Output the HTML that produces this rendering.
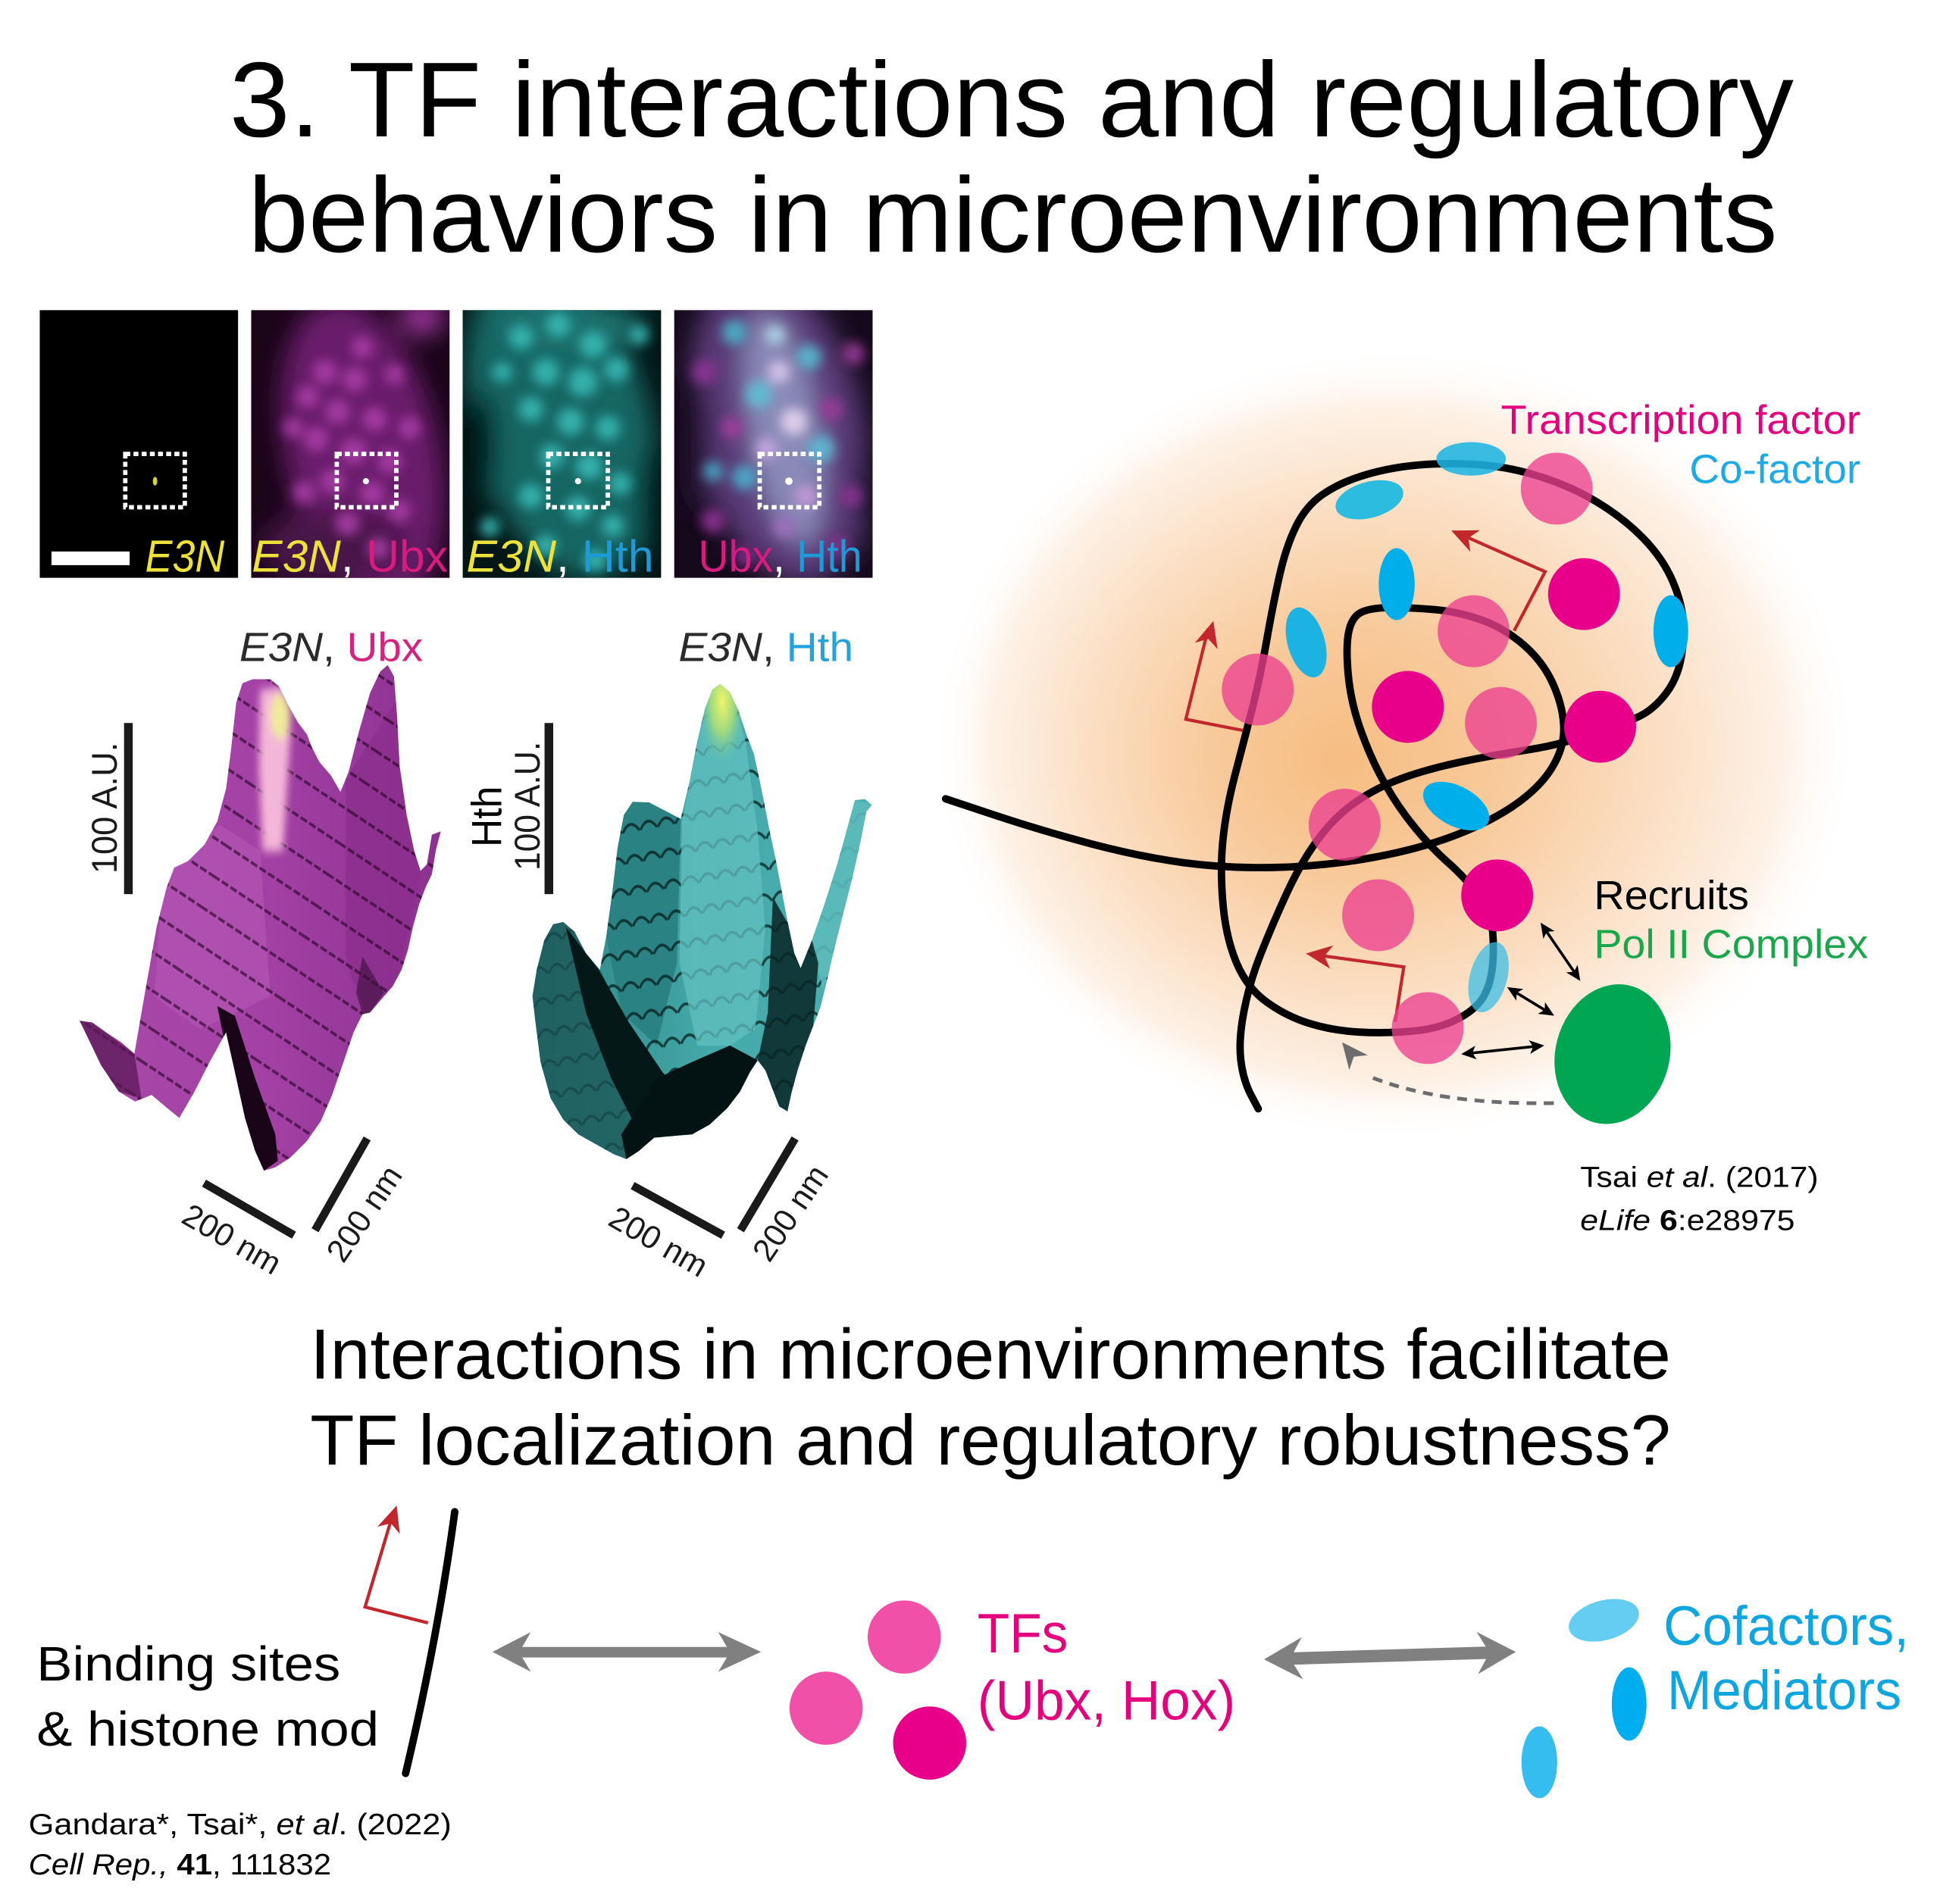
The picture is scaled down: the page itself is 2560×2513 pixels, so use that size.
<!DOCTYPE html>
<html><head><meta charset="utf-8"><style>html,body{margin:0;padding:0;background:#fff}svg{display:block}svg text{font-family:"Liberation Sans",Arial,sans-serif}</style></head>
<body>
<svg xmlns="http://www.w3.org/2000/svg" width="2560" height="2513" viewBox="0 0 1564 1535.28" preserveAspectRatio="none" font-family="Liberation Sans, Arial, sans-serif">
<defs>
  <filter id="bl" x="-30%" y="-30%" width="160%" height="160%"><feGaussianBlur stdDeviation="4.5"/></filter>
  <filter id="blB" x="-30%" y="-30%" width="160%" height="160%"><feGaussianBlur stdDeviation="10"/></filter>
  <filter id="blS" x="-30%" y="-30%" width="160%" height="160%"><feGaussianBlur stdDeviation="14"/></filter>
  <radialGradient id="glow" cx="0.5" cy="0.5" r="0.5" fx="0.44" fy="0.52">
    <stop offset="0" stop-color="#f6bd83"/>
    <stop offset="0.3" stop-color="#f8c999"/>
    <stop offset="0.62" stop-color="#fbdfc4"/>
    <stop offset="0.85" stop-color="#fdf1e6"/>
    <stop offset="1" stop-color="#ffffff" stop-opacity="0"/>
  </radialGradient>
  <linearGradient id="gM" x1="0" y1="0" x2="1" y2="0">
    <stop offset="0" stop-color="#a849a8"/>
    <stop offset="0.5" stop-color="#a441a6"/>
    <stop offset="1" stop-color="#8c3090"/>
  </linearGradient>
  <linearGradient id="gT" x1="0" y1="0" x2="1" y2="0">
    <stop offset="0" stop-color="#2a7c7c"/>
    <stop offset="0.5" stop-color="#44a8a8"/>
    <stop offset="1" stop-color="#4fb2b2"/>
  </linearGradient>
  <radialGradient id="peakT" cx="0.5" cy="0.3" r="0.6">
    <stop offset="0" stop-color="#eef56a"/>
    <stop offset="0.5" stop-color="#9ed880"/>
    <stop offset="1" stop-color="#5abfae" stop-opacity="0"/>
  </radialGradient>
  <pattern id="stM" width="400" height="105" patternUnits="userSpaceOnUse" patternTransform="rotate(27)">
    <line x1="0" y1="95" x2="400" y2="95" stroke="#2a0528" stroke-width="9" stroke-dasharray="28 10" opacity=".65"/>
  </pattern>
  <pattern id="stT" width="70" height="95" patternUnits="userSpaceOnUse" patternTransform="rotate(-8)">
    <path d="M2,85 Q35,40 68,85" fill="none" stroke="#031616" stroke-width="9" opacity=".7"/>
  </pattern>
  <clipPath id="cp1"><rect x="32" y="250" width="160" height="216"/></clipPath>
  <clipPath id="cp2"><rect x="202.5" y="250" width="160" height="216"/></clipPath>
  <clipPath id="cp3"><rect x="373" y="250" width="160" height="216"/></clipPath>
  <clipPath id="cp4"><rect x="543.5" y="250" width="160" height="216"/></clipPath>
  <clipPath id="clipM"><path d="M690,50 L730,38 L800,38 L835,60 L870,115 L910,170 L945,205 L965,245 L995,290 L1040,330 L1078,380 L1110,320 L1150,200 L1195,80 L1235,15 L1265,-5 L1290,30 L1302,150 L1312,300 L1340,450 L1370,560 L1395,620 L1420,600 L1440,510 L1475,500 L1455,560 L1440,630 L1415,670 L1390,720 L1365,790 L1345,860 L1320,920 L1285,970 L1240,1010 L1195,1050 L1165,1055 L1130,1110 L1090,1200 L1045,1300 L1000,1380 L945,1440 L880,1490 L820,1520 L775,1530 L740,1470 L700,1370 L660,1230 L625,1110 L560,1200 L500,1290 L440,1370 L400,1345 L330,1300 L265,1320 L200,1290 L130,1210 L80,1130 L45,1075 L95,1080 L150,1110 L210,1140 L262,1175 L290,1050 L320,920 L350,790 L390,670 L420,610 L475,590 L540,540 L590,470 L625,370 L645,250 L665,110 Z"/></clipPath>
  <clipPath id="clipT"><path d="M780,70 L812,52 L850,78 L885,135 L915,205 L945,265 L965,335 L985,410 L1005,490 L1030,580 L1055,680 L1080,780 L1105,870 L1130,915 L1175,830 L1225,720 L1275,600 L1315,490 L1345,405 L1385,402 L1412,420 L1390,440 L1370,520 L1335,640 L1295,760 L1262,860 L1235,950 L1210,1030 L1180,1090 L1150,1150 L1120,1220 L1095,1290 L1078,1350 L1045,1335 L1015,1275 L990,1225 L960,1195 L930,1230 L890,1290 L840,1340 L770,1390 L700,1420 L620,1425 L550,1430 L490,1470 L440,1495 L390,1480 L320,1450 L250,1420 L190,1375 L140,1310 L100,1200 L80,1080 L68,1000 L85,920 L115,830 L150,782 L190,775 L235,805 L280,870 L335,920 L360,820 L385,680 L405,550 L430,450 L465,410 L530,412 L600,440 L655,462 L690,350 L720,230 L750,130 Z"/></clipPath>
</defs>

<rect x="0" y="0" width="1564" height="1535.28" fill="#fff"/>

<!-- Title -->
<text x="185" y="110" font-size="86" textLength="1261" lengthAdjust="spacingAndGlyphs" fill="#000">3. TF interactions and regulatory</text>
<text x="200" y="203" font-size="86" textLength="1233" lengthAdjust="spacingAndGlyphs" fill="#000">behaviors in microenvironments</text>

<!-- Micrograph panel 1 -->
<g clip-path="url(#cp1)">
  <rect x="32" y="250" width="160" height="216" fill="#000"/>
  <ellipse cx="125" cy="388" rx="1.8" ry="3.5" fill="#d8d040"/>
  <rect x="101" y="366" width="48" height="43" fill="none" stroke="#fff" stroke-width="3.5" stroke-dasharray="4 2.6"/>
  <rect x="41.5" y="444.7" width="63" height="11" fill="#fff"/>
  <text x="117" y="461" font-size="36" font-style="italic" fill="#ece23a" textLength="64" lengthAdjust="spacingAndGlyphs">E3N</text>
</g>

<!-- Panel 2 -->
<g clip-path="url(#cp2)">
  <rect x="202.5" y="250" width="160" height="216" fill="#1a0519"/>
  <g filter="url(#blB)">
    <ellipse cx="292" cy="365" rx="62" ry="125" transform="rotate(-12 292 365)" fill="#6a1f6c"/>
    <ellipse cx="270" cy="440" rx="60" ry="30" fill="#4a1648"/>
    <ellipse cx="340" cy="256" rx="18" ry="14" fill="#a338a3"/>
  </g>
  <g filter="url(#bl)" fill="#a83ea6" opacity=".9">
    <circle cx="262" cy="300" r="10"/><circle cx="286" cy="306" r="10"/><circle cx="248" cy="320" r="9"/>
    <circle cx="272" cy="332" r="10"/><circle cx="302" cy="338" r="10"/><circle cx="255" cy="354" r="10"/>
    <circle cx="285" cy="364" r="11"/><circle cx="314" cy="372" r="10"/><circle cx="268" cy="388" r="10"/>
    <circle cx="300" cy="398" r="10"/><circle cx="322" cy="412" r="9"/><circle cx="280" cy="422" r="10"/>
    <circle cx="245" cy="397" r="9"/><circle cx="330" cy="345" r="9"/><circle cx="292" cy="280" r="9"/>
    <circle cx="318" cy="302" r="8"/><circle cx="236" cy="345" r="8"/><circle cx="305" cy="442" r="9"/>
  </g>
  <circle cx="295" cy="388" r="2.5" fill="#fff"/>
  <rect x="271.5" y="366" width="48" height="43" fill="none" stroke="#fff" stroke-width="3.5" stroke-dasharray="4 2.6"/>
  <text x="203" y="461" font-size="36" textLength="158" lengthAdjust="spacingAndGlyphs"><tspan fill="#ece23a" font-style="italic">E3N</tspan><tspan fill="#fff">, </tspan><tspan fill="#d81b7f">Ubx</tspan></text>
</g>

<!-- Panel 3 -->
<g clip-path="url(#cp3)">
  <rect x="373" y="250" width="160" height="216" fill="#031515"/>
  <g filter="url(#blB)">
    <ellipse cx="452" cy="340" rx="72" ry="130" transform="rotate(-15 452 340)" fill="#166664"/>
    <ellipse cx="460" cy="262" rx="60" ry="20" fill="#1a7270"/>
    <ellipse cx="388" cy="360" rx="12" ry="45" fill="#031515"/>
    <ellipse cx="526" cy="410" rx="10" ry="50" fill="#031515"/>
  </g>
  <g filter="url(#bl)" fill="#38b8b4" opacity=".9">
    <circle cx="420" cy="272" r="10"/><circle cx="450" cy="262" r="10"/><circle cx="478" cy="278" r="11"/>
    <circle cx="440" cy="300" r="11"/><circle cx="470" cy="308" r="12"/><circle cx="497" cy="298" r="10"/>
    <circle cx="428" cy="330" r="10"/><circle cx="460" cy="340" r="11"/><circle cx="490" cy="345" r="10"/>
    <circle cx="445" cy="368" r="10"/><circle cx="475" cy="376" r="11"/><circle cx="500" cy="390" r="9"/>
    <circle cx="428" cy="400" r="10"/><circle cx="466" cy="410" r="10"/><circle cx="494" cy="424" r="9"/>
    <circle cx="440" cy="440" r="9"/><circle cx="480" cy="452" r="9"/><circle cx="405" cy="300" r="8"/>
    <circle cx="395" cy="425" r="8"/><circle cx="515" cy="270" r="8"/>
  </g>
  <circle cx="466" cy="388" r="2.5" fill="#fff"/>
  <rect x="442" y="366" width="48" height="43" fill="none" stroke="#fff" stroke-width="3.5" stroke-dasharray="4 2.6"/>
  <text x="376" y="461" font-size="36" textLength="151" lengthAdjust="spacingAndGlyphs"><tspan fill="#ece23a" font-style="italic">E3N</tspan><tspan fill="#fff">, </tspan><tspan fill="#1e9ad8">Hth</tspan></text>
</g>

<!-- Panel 4 -->
<g clip-path="url(#cp4)">
  <rect x="543.5" y="250" width="160" height="216" fill="#150a1c"/>
  <g filter="url(#blB)">
    <ellipse cx="628" cy="345" rx="68" ry="128" transform="rotate(-12 628 345)" fill="#5a3a78"/>
    <ellipse cx="632" cy="345" rx="28" ry="95" transform="rotate(-10 632 345)" fill="#8a8ab8"/>
    <ellipse cx="560" cy="360" rx="12" ry="60" fill="#1e0c26"/>
    <ellipse cx="700" cy="400" rx="10" ry="50" fill="#160a1c"/>
  </g>
  <g filter="url(#bl)" opacity=".9">
    <circle cx="568" cy="300" r="10" fill="#8e3494"/><circle cx="575" cy="420" r="10" fill="#8a3090"/>
    <circle cx="688" cy="285" r="9" fill="#9a3a98"/><circle cx="686" cy="400" r="9" fill="#8a3290"/>
    <circle cx="600" cy="448" r="9" fill="#7a2c84"/><circle cx="675" cy="440" r="9" fill="#80308a"/>
    <circle cx="590" cy="345" r="9" fill="#a03c9c"/><circle cx="670" cy="330" r="9" fill="#9e3a9a"/>
    <circle cx="592" cy="268" r="10" fill="#4ab2c8"/><circle cx="612" cy="318" r="11" fill="#5ec0d6"/>
    <circle cx="652" cy="288" r="10" fill="#54bcd2"/><circle cx="600" cy="385" r="10" fill="#4aaecc"/>
    <circle cx="662" cy="362" r="11" fill="#5cbad4"/><circle cx="575" cy="380" r="8" fill="#48a8c4"/>
    <circle cx="628" cy="300" r="9" fill="#d8c8ec"/><circle cx="640" cy="340" r="11" fill="#e4d4f0"/>
    <circle cx="618" cy="362" r="9" fill="#c8a8e0"/><circle cx="650" cy="400" r="9" fill="#c89ad8"/>
    <circle cx="632" cy="425" r="9" fill="#a070c0"/><circle cx="625" cy="270" r="8" fill="#b0d8e8"/>
  </g>
  <circle cx="636" cy="388" r="3" fill="#fff"/>
  <rect x="612.5" y="366" width="48" height="43" fill="none" stroke="#fff" stroke-width="3.5" stroke-dasharray="4 2.6"/>
  <text x="563" y="461" font-size="36" textLength="132" lengthAdjust="spacingAndGlyphs"><tspan fill="#d81b7f">Ubx</tspan><tspan fill="#fff">, </tspan><tspan fill="#1e9ad8">Hth</tspan></text>
</g>

<!-- Surface labels -->
<text x="193" y="533" font-size="33" textLength="148" lengthAdjust="spacingAndGlyphs"><tspan fill="#2b2b2b" font-style="italic">E3N</tspan><tspan fill="#2b2b2b">, </tspan><tspan fill="#d6237f">Ubx</tspan></text>
<text x="547" y="533" font-size="33" textLength="141" lengthAdjust="spacingAndGlyphs"><tspan fill="#2b2b2b" font-style="italic">E3N</tspan><tspan fill="#2b2b2b">, </tspan><tspan fill="#22a3dc">Hth</tspan></text>

<!-- vertical scale bars -->
<line x1="103.5" y1="583" x2="103.5" y2="721" stroke="#1a1a1a" stroke-width="7"/>
<line x1="442.5" y1="583" x2="442.5" y2="721" stroke="#1a1a1a" stroke-width="7"/>
<text transform="translate(94,651.5) rotate(-90)" font-size="29" text-anchor="middle" fill="#1a1a1a" textLength="106" lengthAdjust="spacingAndGlyphs">100 A.U.</text>
<text transform="translate(435,650) rotate(-90)" font-size="29" text-anchor="middle" fill="#1a1a1a" textLength="104" lengthAdjust="spacingAndGlyphs">100 A.U.</text>
<text transform="translate(404,658.5) rotate(-90)" font-size="34" text-anchor="middle" fill="#000" textLength="49" lengthAdjust="spacingAndGlyphs">Hth</text>

<!-- Magenta surface -->
<g transform="translate(55,537.6) scale(0.2036,0.2656)">
  <g clip-path="url(#clipM)">
    <rect x="0" y="-20" width="1500" height="1600" fill="url(#gM)"/>
    <polygon points="380,600 600,480 760,560 800,1000 640,1060 520,1100 340,1000" fill="#b658b6" opacity=".6"/>
    <polygon points="1100,340 1300,100 1400,620 1300,960 1180,1050 1100,900" fill="#8a2e8c" opacity=".7"/>
    <rect x="0" y="-20" width="1500" height="1600" fill="url(#stM)"/>
    <g filter="url(#blS)">
      <polygon points="760,70 850,60 880,200 850,560 770,560 755,300" fill="#f4b6d8"/>
      <ellipse cx="840" cy="150" rx="40" ry="70" fill="#f0ea9a"/>
    </g>
    <polygon points="45,1075 95,1080 262,1175 290,1310 200,1290 130,1210 80,1130" fill="#5a1a55" opacity=".75"/>
    <polygon points="590,1030 660,1060 740,1250 820,1420 830,1500 775,1530 730,1460 680,1330 630,1180" fill="#1a0418"/>
    <polygon points="1165,880 1250,990 1195,1050 1165,1055 1140,990" fill="#3a0f3a" opacity=".6"/>
  </g>
</g>

<!-- Teal surface -->
<g transform="translate(415.4,537.6) scale(0.2036,0.2656)">
  <g clip-path="url(#clipT)">
    <rect x="0" y="0" width="1500" height="1600" fill="url(#gT)"/>
    <polygon points="360,820 385,680 405,550 430,450 465,410 530,412 600,440 655,462 640,900 560,1150 420,1050" fill="#2a8282"/>
    <rect x="0" y="0" width="1500" height="1600" fill="url(#stT)"/>
    <polygon points="660,470 760,90 850,78 910,220 960,500 990,800 950,1100 850,1150 720,1150 650,900" fill="#62c0c0" opacity=".75"/>
    <polygon points="1175,830 1345,405 1412,420 1300,760 1220,980 1190,900" fill="#5cbaba" opacity=".9"/>
    <polygon points="68,1000 85,920 115,830 150,782 190,775 235,805 280,870 335,920 420,1050 520,1200 600,1300 560,1420 490,1470 440,1495 390,1480 320,1450 250,1420 190,1375 140,1310 100,1200 80,1080" fill="#1c5656" opacity=".75"/>
    <polygon points="200,790 330,920 450,1080 600,1250 640,1330 560,1420 480,1400 380,1250 280,1050" fill="#051818"/>
    <polygon points="560,1250 700,1200 850,1150 960,1195 930,1230 890,1290 840,1340 770,1390 700,1420 620,1425 550,1430 490,1470 440,1495 420,1420" fill="#031212"/>
    <polygon points="1020,700 1080,780 1130,915 1175,830 1200,900 1180,1090 1150,1150 1120,1220 1095,1290 1078,1350 1045,1335 1015,1275 990,1225 960,1195 1000,1050" fill="#082424" opacity=".85"/>
    <ellipse cx="820" cy="170" rx="80" ry="160" fill="url(#peakT)"/>
  </g>
</g>

<!-- bottom scale bars -->
<g stroke="#1a1a1a" stroke-width="6.5">
  <line x1="164.5" y1="954" x2="237" y2="996"/>
  <line x1="254" y1="992" x2="296" y2="918"/>
  <line x1="510" y1="956" x2="583" y2="996"/>
  <line x1="597" y1="992" x2="641" y2="918"/>
</g>
<g font-size="26" fill="#1a1a1a" text-anchor="middle">
  <text transform="translate(187,999) rotate(30)" dy="9">200 nm</text>
  <text transform="translate(293.5,978.5) rotate(-56)" dy="9">200 nm</text>
  <text transform="translate(531,1001) rotate(30)" dy="9">200 nm</text>
  <text transform="translate(637,978) rotate(-56)" dy="9">200 nm</text>
</g>

<!-- Right diagram -->
<ellipse cx="1125" cy="600" rx="375" ry="322" fill="url(#glow)"/>

<g fill="none" stroke="#000" stroke-width="6" stroke-linecap="round" stroke-linejoin="round">
  <path d="M762.3,644.1 L801,657 Q839.6,669.8 879.6,680.4 Q919.6,690.9 954.2,695.6 Q988.8,700.2 1026.2,699.5 Q1063.5,698.8 1100.8,692.5 Q1138.1,686.2 1167.4,675.7 Q1196.7,665.2 1218.1,651.2 Q1239.4,637.1 1250.1,620.8 Q1260.7,604.4 1260.7,588.1 Q1260.7,571.7 1252.7,553 Q1244.7,534.3 1228.7,520.3 Q1212.7,506.3 1194.1,499.8 Q1175.4,493.2 1156.8,491.6 Q1138.1,489.9 1122.1,489.9 Q1106.1,489.9 1098.1,493.4 Q1090.1,496.9 1087.5,508.6 Q1084.8,520.3 1086.9,543.7 Q1089,567 1097.6,590.4 Q1106.1,613.8 1116.8,632.5 Q1127.4,651.2 1140.8,667.5 Q1154.1,683.8 1167.4,695.5 Q1180.7,707.2 1191.4,721.3 Q1202,735.3 1203.4,751.7 Q1204.7,768 1202.9,782 Q1201,796 1194.9,805.4 Q1188.7,814.7 1174.1,822.2 Q1159.4,829.6 1138.1,831.5 Q1116.8,833.4 1095.5,832.2 Q1074.1,831 1055.5,825.2 Q1036.8,819.4 1020.8,807.7 Q1004.8,796 996.3,775 Q987.8,754 985.7,726 Q983.5,697.9 986.2,674.5 Q988.8,651.1 995.5,625.4 Q1002.2,599.7 1008.9,574 Q1015.5,548.3 1020.9,518 Q1026.2,487.6 1031.5,464.3 Q1036.8,440.9 1044.8,424.5 Q1052.8,408.1 1066.2,398.8 Q1079.5,389.5 1098.2,383.7 Q1116.8,377.8 1138.1,375.5 Q1159.4,373.1 1186.1,374.3 Q1212.7,375.4 1239.4,383.6 Q1266,391.8 1287.3,404.7 Q1308.6,417.5 1324.6,433.9 Q1340.6,450.2 1348.6,468.9 Q1356.6,487.6 1357.2,504 Q1357.7,520.3 1354.5,534.3 Q1351.3,548.3 1343.3,558.9 Q1335.3,569.4 1326,575.2 Q1316.6,581 1303.3,583.4 L1290,585.7"/>
  <path d="M1290,585.7 L1276.7,592.7 Q1263.3,599.7 1230,604.9 Q1196.7,610 1170.1,616.1 Q1143.4,622.2 1124.8,629.7 Q1106.1,637.1 1090.1,648.8 Q1074.1,660.5 1060.8,679.2 Q1047.5,697.9 1036.9,721.3 Q1026.2,744.6 1016.9,768 Q1007.5,791.3 1003,814.7 Q998.4,838.1 1000.3,854.5 Q1002.2,870.8 1008.3,882.5 L1014.4,894.1"/>
</g>

<!-- red promoter arrows -->
<g fill="none" stroke="#c1272d" stroke-width="2.6" stroke-linejoin="miter">
  <polyline points="1002,589 956,580 974,507"/>
  <polyline points="1220.7,508.6 1245.7,461 1180,432"/>
  <polyline points="1124.8,824 1131.7,779.7 1064,770.4"/>
</g>
<g fill="#c1272d">
  <path d="M0,0 L-21,-9.5 L-15,0 L-21,9.5 Z" transform="translate(978.2,500.7) rotate(-74.2)"/>
  <path d="M0,0 L-21,-9.5 L-15,0 L-21,9.5 Z" transform="translate(1170,427.8) rotate(203.7)"/>
  <path d="M0,0 L-21,-9.5 L-15,0 L-21,9.5 Z" transform="translate(1052.8,768.9) rotate(187.8)"/>
</g>

<!-- cyan cofactors -->
<ellipse cx="1186" cy="370" rx="28" ry="13.5" fill="#1eb4e2" opacity=".88"/>
<ellipse cx="1104" cy="403" rx="28" ry="14.5" transform="rotate(-15 1104 403)" fill="#2cbce0"/>
<ellipse cx="1126" cy="471" rx="14.5" ry="29" fill="#00aeea"/>
<ellipse cx="1053" cy="518" rx="15" ry="29" transform="rotate(-16 1053 518)" fill="#1cb3e2"/>
<ellipse cx="1347" cy="509" rx="14" ry="29" fill="#00aeea"/>
<ellipse cx="1174" cy="650" rx="29" ry="16" transform="rotate(28 1174 650)" fill="#00aeea"/>
<ellipse cx="1200" cy="788" rx="15" ry="29" transform="rotate(15 1200 788)" fill="#3cbde6" opacity=".75"/>

<!-- TFs -->
<g fill="#ec4090" opacity=".78">
  <circle cx="1255" cy="394" r="29"/>
  <circle cx="1188" cy="509" r="29"/>
  <circle cx="1014" cy="556" r="29"/>
  <circle cx="1210" cy="583" r="29"/>
  <circle cx="1084" cy="665" r="29"/>
  <circle cx="1111" cy="738" r="29"/>
  <circle cx="1151" cy="829" r="29"/>
</g>
<g fill="#e8008a">
  <circle cx="1277" cy="479" r="29"/>
  <circle cx="1135" cy="570" r="29"/>
  <circle cx="1290" cy="586" r="29"/>
  <circle cx="1207" cy="722" r="29"/>
</g>

<!-- Pol II -->
<ellipse cx="1300" cy="850" rx="46" ry="57" transform="rotate(15 1300 850)" fill="#00a651"/>

<!-- black double arrows -->
<g stroke="#000" stroke-width="2.2" fill="none">
  <line x1="1246" y1="750" x2="1270" y2="785"/>
  <line x1="1220" y1="799" x2="1248" y2="816"/>
  <line x1="1184" y1="849.4" x2="1239" y2="843.6"/>
</g>
<g fill="#000">
  <path d="M0,0 L-12,-5.5 L-9,0 L-12,5.5 Z" transform="translate(1274,791) rotate(55.8)"/>
  <path d="M0,0 L-12,-5.5 L-9,0 L-12,5.5 Z" transform="translate(1242,744) rotate(235.8)"/>
  <path d="M0,0 L-12,-5.5 L-9,0 L-12,5.5 Z" transform="translate(1253,819) rotate(31.2)"/>
  <path d="M0,0 L-12,-5.5 L-9,0 L-12,5.5 Z" transform="translate(1215,796) rotate(211.2)"/>
  <path d="M0,0 L-12,-5.5 L-9,0 L-12,5.5 Z" transform="translate(1245,843) rotate(-6)"/>
  <path d="M0,0 L-12,-5.5 L-9,0 L-12,5.5 Z" transform="translate(1178,850) rotate(174)"/>
</g>

<!-- gray dashed arrow -->
<path d="M1252.7,889.5 Q1160,891 1104,868" fill="none" stroke="#6d6d6d" stroke-width="3" stroke-dasharray="8 6"/>
<path d="M0,0 L-21,-9.5 L-15,0 L-21,9.5 Z" transform="translate(1082,840.4) rotate(-128.8)" fill="#6d6d6d"/>

<!-- diagram text -->
<text x="1210" y="349.7" font-size="33" fill="#e5007e" textLength="290" lengthAdjust="spacingAndGlyphs">Transcription factor</text>
<text x="1362" y="389.5" font-size="33" fill="#1eaae7" textLength="138" lengthAdjust="spacingAndGlyphs">Co-factor</text>
<text x="1285" y="733" font-size="33" fill="#000" textLength="125" lengthAdjust="spacingAndGlyphs">Recruits</text>
<text x="1285" y="772.6" font-size="33" fill="#1aa64a" textLength="221" lengthAdjust="spacingAndGlyphs">Pol II Complex</text>
<text x="1274" y="957" font-size="23" fill="#000" textLength="192" lengthAdjust="spacingAndGlyphs">Tsai <tspan font-style="italic">et al</tspan>. (2017)</text>
<text x="1274" y="992" font-size="23" fill="#000" textLength="173" lengthAdjust="spacingAndGlyphs"><tspan font-style="italic">eLife</tspan> <tspan font-weight="bold">6</tspan>:e28975</text>

<!-- Bottom question -->
<text x="250" y="1111.5" font-size="57" fill="#000" textLength="1097" lengthAdjust="spacingAndGlyphs">Interactions in microenvironments facilitate</text>
<text x="250" y="1181" font-size="57" fill="#000" textLength="1097" lengthAdjust="spacingAndGlyphs">TF localization and regulatory robustness?</text>

<!-- bottom-left binding sites -->
<path d="M366.6,1219 Q353,1320 327,1430" fill="none" stroke="#000" stroke-width="6" stroke-linecap="round"/>
<polyline points="345,1308.6 294.3,1295.8 315.5,1225" fill="none" stroke="#c1272d" stroke-width="2.6"/>
<path d="M0,0 L-21,-9.5 L-15,0 L-21,9.5 Z" transform="translate(319.8,1214) rotate(-72)" fill="#c1272d"/>
<text x="29.5" y="1355" font-size="39" fill="#000" textLength="245" lengthAdjust="spacingAndGlyphs">Binding sites</text>
<text x="29.5" y="1407.7" font-size="39" fill="#000" textLength="276" lengthAdjust="spacingAndGlyphs">&amp; histone mod</text>
<text x="23" y="1479" font-size="23.5" fill="#000" textLength="341" lengthAdjust="spacingAndGlyphs">Gandara*, Tsai*, <tspan font-style="italic">et al</tspan>. (2022)</text>
<text x="23" y="1511.6" font-size="23.5" fill="#000" textLength="244" lengthAdjust="spacingAndGlyphs"><tspan font-style="italic">Cell Rep.,</tspan> <tspan font-weight="bold">41</tspan>, 111832</text>

<!-- gray arrow A -->
<polygon points="397,1332 428,1316 421,1328 586,1328 579,1316 613.5,1332 579,1348 586,1336.5 421,1336.5 428,1348" fill="#808080"/>
<!-- gray arrow B -->
<g transform="rotate(-1.7 1120.5 1335)">
  <polygon points="1019,1335 1050,1318 1043,1330 1198,1330 1191,1318 1222,1335 1191,1352 1198,1340 1043,1340 1050,1352" fill="#808080"/>
</g>

<!-- bottom TFs -->
<circle cx="729" cy="1320" r="29.5" fill="#f050a8"/>
<circle cx="666" cy="1377.4" r="29.5" fill="#f050a8"/>
<circle cx="749.5" cy="1405.5" r="29.5" fill="#e8008a"/>
<text x="788" y="1332.5" font-size="45" fill="#e5007e" textLength="73" lengthAdjust="spacingAndGlyphs">TFs</text>
<text x="788" y="1386.5" font-size="45" fill="#e5007e" textLength="208" lengthAdjust="spacingAndGlyphs">(Ubx, Hox)</text>

<!-- bottom cofactors -->
<ellipse cx="1293" cy="1306.5" rx="29" ry="16" transform="rotate(-15 1293 1306.5)" fill="#66cdf2"/>
<ellipse cx="1313.4" cy="1374" rx="14" ry="29.6" fill="#00aeef"/>
<ellipse cx="1241" cy="1421" rx="14.4" ry="29" fill="#35bdf0"/>
<text x="1341" y="1326.3" font-size="45" fill="#0ea5e0" textLength="198" lengthAdjust="spacingAndGlyphs">Cofactors,</text>
<text x="1344" y="1378.2" font-size="45" fill="#0ea5e0" textLength="189" lengthAdjust="spacingAndGlyphs">Mediators</text>
</svg>
</body></html>
